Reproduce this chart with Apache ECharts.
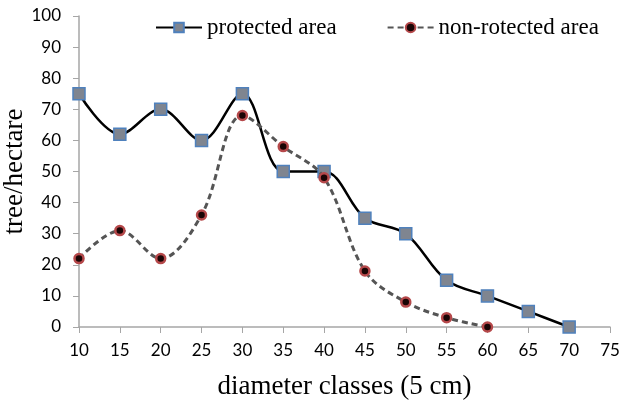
<!DOCTYPE html>
<html>
<head>
<meta charset="utf-8">
<script src="https://cdn.jsdelivr.net/npm/echarts@6/dist/echarts.min.js"></script>
<style>
  html, body { margin: 0; padding: 0; background: #fff; }
  #chart { width: 631px; height: 408px; }
</style>
</head>
<body>
<div id="chart"></div>
<script>
// diameter classes (cm)
const protectedX = [10, 15, 20, 25, 30, 35, 40, 45, 50, 55, 60, 65, 70];
const protectedY = [75, 62, 70, 60, 75, 50, 50, 35, 30, 15, 10, 5, 0];
const nonProtectedX = [10, 15, 20, 25, 30, 35, 40, 45, 50, 55, 60];
const nonProtectedY = [22, 31, 22, 36, 68, 58, 48, 18, 8, 3, 0];

const pairs = (xs, ys) => xs.map((x, i) => [x, ys[i]]);

const chart = echarts.init(document.getElementById('chart'));
chart.setOption({
  animation: false,
  grid: { left: 79, right: 21, top: 16, bottom: 81, containLabel: false, outerBoundsMode: 'none' },
  legend: {
    top: 11,
    left: 150,
    itemGap: 50,
    itemWidth: 46,
    itemHeight: 12,
    textStyle: { fontFamily: 'Liberation Serif', fontSize: 23, color: '#000' },
    data: ['protected area', 'non-rotected area']
  },
  xAxis: {
    type: 'value',
    min: 10,
    max: 75,
    interval: 5,
    name: 'diameter classes (5 cm)',
    nameLocation: 'middle',
    nameGap: 46,
    nameTextStyle: { fontFamily: 'Liberation Serif', fontSize: 27, color: '#000' },
    axisLine: { show: true, lineStyle: { color: '#a6a6a6', width: 1.5 } },
    axisTick: { show: true, length: 6, lineStyle: { color: '#a6a6a6' } },
    axisLabel: { fontFamily: 'Lato', fontSize: 17, color: '#000', margin: 15 },
    splitLine: { show: false }
  },
  yAxis: {
    type: 'value',
    min: 0,
    max: 100,
    interval: 10,
    name: 'tree/hectare',
    nameLocation: 'middle',
    nameGap: 51,
    nameMoveOverlap: false,
    nameTextStyle: { fontFamily: 'Liberation Serif', fontSize: 27, color: '#000' },
    axisLine: { show: true, lineStyle: { color: '#a6a6a6', width: 1.5 } },
    axisTick: { show: true, length: 6, lineStyle: { color: '#a6a6a6' } },
    axisLabel: { fontFamily: 'Lato', fontSize: 17, color: '#000', margin: 18 },
    splitLine: { show: false }
  },
  series: [
    {
      name: 'protected area',
      type: 'line',
      smooth: 0.35,
      data: pairs(protectedX, protectedY),
      symbol: 'rect',
      symbolSize: 12,
      lineStyle: { color: '#000', width: 2.5 },
      itemStyle: { color: '#7f8590', borderColor: '#4f81bd', borderWidth: 1.5 },
      z: 2
    },
    {
      name: 'non-rotected area',
      type: 'line',
      smooth: 0.35,
      data: pairs(nonProtectedX, nonProtectedY),
      symbol: 'circle',
      symbolSize: 9,
      lineStyle: { color: '#555', width: 3, type: [6, 4] },
      itemStyle: { color: '#1a0505', borderColor: '#b5484a', borderWidth: 2.5 },
      z: 3
    }
  ]
});
</script>
</body>
</html>
